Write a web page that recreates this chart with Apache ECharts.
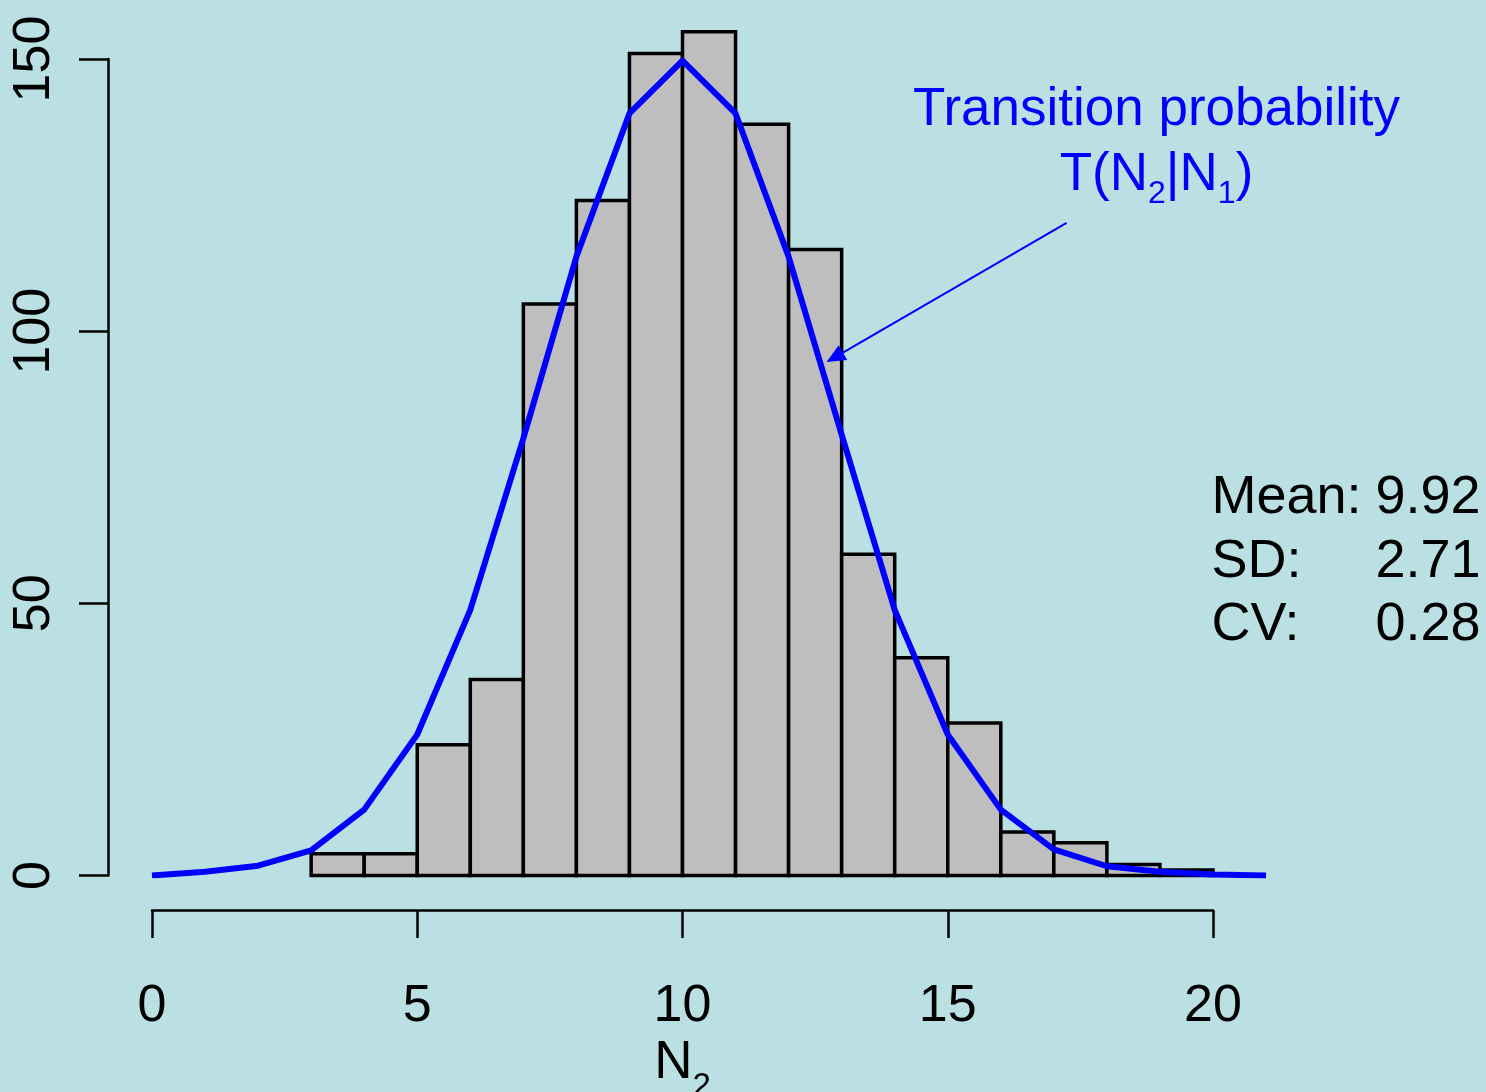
<!DOCTYPE html>
<html>
<head>
<meta charset="utf-8">
<script src="https://cdn.jsdelivr.net/npm/echarts@6/dist/echarts.min.js"></script>
<style>
html,body{margin:0;padding:0;background:#BBE0E3;}
#chart{width:1486px;height:1092px;}
</style>
</head>
<body>
<div id="chart"></div>
<script>
// Histogram bins (left edge, right edge) and counts
var binStart = [3, 4, 5, 6, 7, 8, 9, 10, 11, 12, 13, 14, 15, 16, 17, 18, 19];
var binEnd   = [4, 5, 6, 7, 8, 9, 10, 11, 12, 13, 14, 15, 16, 17, 18, 19, 20];
var binCounts = [4, 4, 24, 36, 105, 124, 151, 155, 138, 115, 59, 40, 28, 8, 6, 2, 1];

// Transition probability curve (scaled)
var lineX = [0, 1, 2, 3, 4, 5, 6, 7, 8, 9, 10, 11, 12, 13, 14, 15, 16, 17, 18, 19, 20, 21];
var lineY = [0, 0.7, 1.8, 4.6, 12.1, 25.9, 48.8, 80.3, 113.7, 140, 149.7, 140, 113.7, 81, 48.8, 25.9, 12.1, 4.8, 1.7, 0.7, 0.2, 0];

// Axis ticks
var xTicks = {min: 0, max: 20, interval: 5};
var yTicks = {min: 0, max: 150, interval: 50};

// Annotation texts
var statLabels = ['Mean:', 'SD:', 'CV:'];
var statValues = ['9.92', '2.71', '0.28'];
var arrowFrom = [17.24, 119.9];
var arrowTo = [12.87, 95.2];

var FONT = '"Liberation Sans", Arial, Helvetica, sans-serif';
var BLUE = '#0000FF';

var histData = binStart.map(function (s, i) { return [s, binEnd[i], binCounts[i]]; });
var lineData = lineX.map(function (x, i) { return [x, lineY[i]]; });

var chart = echarts.init(document.getElementById('chart'), null, {renderer: 'canvas'});

var graphics = [];
graphics.push({
  type: 'text', x: 1156.5, y: 110, z: 100,
  style: {text: 'Transition probability', fontSize: 53, fontFamily: FONT, fill: BLUE,
          align: 'center', verticalAlign: 'middle', textAlign: 'center', textVerticalAlign: 'middle'}
});
graphics.push({
  type: 'text', x: 1156.5, y: 175, z: 100,
  style: {
    text: '{m|T(N}{s|2}{m||N}{s|1}{m|)}',
    fontSize: 53, fontFamily: FONT, fill: BLUE,
    align: 'center', verticalAlign: 'middle', textAlign: 'center', textVerticalAlign: 'middle',
    rich: {
      m: {fontSize: 53, fontFamily: FONT, fill: BLUE, lineHeight: 70, verticalAlign: 'middle'},
      s: {fontSize: 32, fontFamily: FONT, fill: BLUE, lineHeight: 22, verticalAlign: 'bottom'}
    }
  }
});
var statY = [498, 561.7, 625.4];
statLabels.forEach(function (lab, i) {
  graphics.push({
    type: 'text', x: 1211.5, y: statY[i], z: 100,
    style: {text: lab, fontSize: 54, fontFamily: FONT, fill: '#000',
            align: 'left', verticalAlign: 'middle', textAlign: 'left', textVerticalAlign: 'middle'}
  });
  graphics.push({
    type: 'text', x: 1375.5, y: statY[i], z: 100,
    style: {text: statValues[i], fontSize: 54, fontFamily: FONT, fill: '#000',
            align: 'left', verticalAlign: 'middle', textAlign: 'left', textVerticalAlign: 'middle'}
  });
});

var axisCol = '#000';
var option = {
  animation: false,
  backgroundColor: '#BBE0E3',
  textStyle: {fontFamily: FONT},
  graphic: graphics,
  grid: [
    {left: 152, top: 4.6, width: 1114.05, height: 870.9, outerBoundsMode: 'none', containLabel: false},
    {left: 152, top: 880, width: 1061, height: 30, outerBoundsMode: 'none', containLabel: false},
    {left: 108, top: 59, width: 20, height: 816.5, outerBoundsMode: 'none', containLabel: false}
  ],
  xAxis: [
    {gridIndex: 0, type: 'value', min: 0, max: 21, show: false},
    {
      gridIndex: 1, type: 'value', min: xTicks.min, max: xTicks.max, interval: xTicks.interval,
      position: 'bottom',
      axisLine: {show: true, onZero: false, lineStyle: {color: axisCol, width: 2.5}},
      axisTick: {show: true, inside: false, length: 28, lineStyle: {color: axisCol, width: 2.5}},
      axisLabel: {show: true, fontSize: 52, color: '#000', margin: 71, fontFamily: FONT},
      splitLine: {show: false},
      name: '{m|N}{s|2}',
      nameLocation: 'middle',
      nameGap: 113,
      nameMoveOverlap: false,
      nameTextStyle: {
        color: '#000',
        rich: {
          m: {fontSize: 53, fontFamily: FONT, color: '#000', lineHeight: 80, verticalAlign: 'middle'},
          s: {fontSize: 33, fontFamily: FONT, color: '#000', lineHeight: 13, verticalAlign: 'bottom'}
        }
      }
    },
    {gridIndex: 2, type: 'value', min: 0, max: 1, show: false}
  ],
  yAxis: [
    {gridIndex: 0, type: 'value', min: 0, max: 160, show: false},
    {gridIndex: 1, type: 'value', min: 0, max: 1, show: false},
    {
      gridIndex: 2, type: 'value', min: yTicks.min, max: yTicks.max, interval: yTicks.interval,
      position: 'left',
      axisLine: {show: true, onZero: false, lineStyle: {color: axisCol, width: 2.5}},
      axisTick: {show: true, inside: false, length: 29, lineStyle: {color: axisCol, width: 2.5}},
      axisLabel: {show: true, fontSize: 52, color: '#000', margin: 47, rotate: 90, fontFamily: FONT},
      splitLine: {show: false}
    }
  ],
  series: [
    {
      type: 'custom',
      xAxisIndex: 0, yAxisIndex: 0,
      data: histData,
      encode: {x: [0, 1], y: 2},
      z: 2,
      renderItem: function (params, api) {
        var p0 = api.coord([api.value(0), 0]);
        var p1 = api.coord([api.value(1), api.value(2)]);
        return {
          type: 'rect',
          shape: {x: p0[0], y: p1[1], width: p1[0] - p0[0], height: p0[1] - p1[1]},
          style: {fill: '#BEBEBE', stroke: '#000', lineWidth: 3.5}
        };
      }
    },
    {
      type: 'line',
      xAxisIndex: 0, yAxisIndex: 0,
      data: lineData,
      symbol: 'none',
      z: 5,
      lineStyle: {color: BLUE, width: 6, join: 'round'},
      itemStyle: {color: BLUE},
      markLine: {
        silent: true,
        animation: false,
        symbol: ['none', 'triangle'],
        symbolSize: [17, 19],
        label: {show: false},
        lineStyle: {color: BLUE, width: 2, type: 'solid'},
        emphasis: {disabled: true},
        data: [[{coord: arrowFrom}, {coord: arrowTo}]]
      }
    }
  ]
};
chart.setOption(option);
</script>
</body>
</html>
